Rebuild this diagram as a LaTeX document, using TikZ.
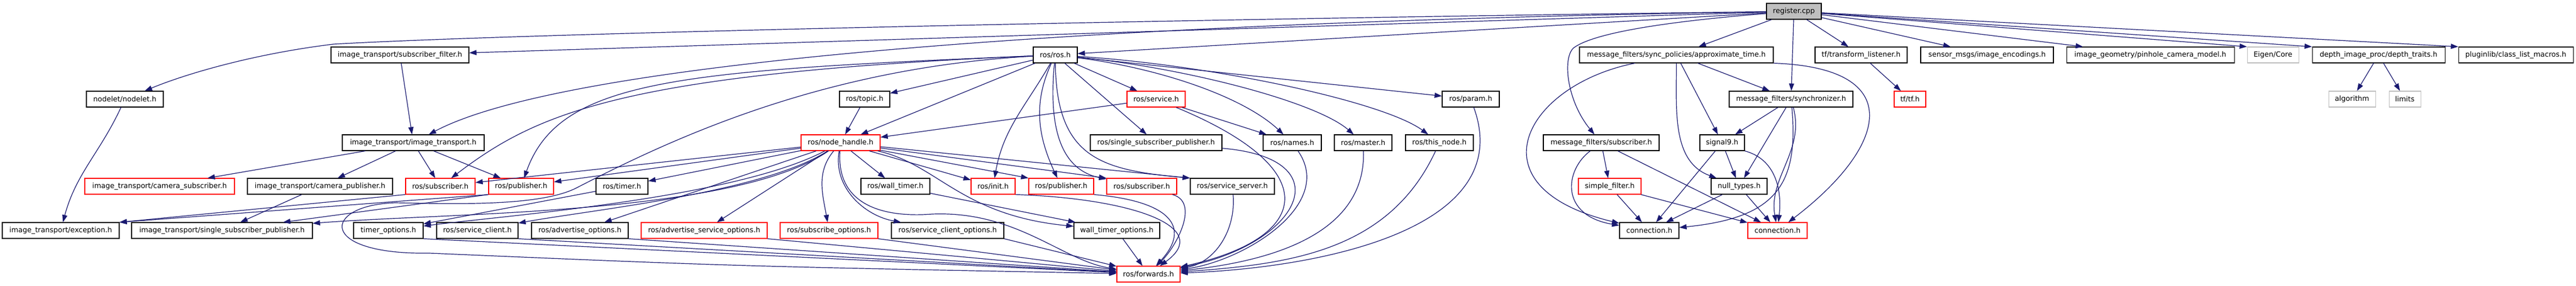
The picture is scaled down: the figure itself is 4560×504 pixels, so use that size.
\documentclass[tikz,border=0pt]{standalone}
\usepackage{fontspec}
\setmainfont{DejaVu Sans}
\usetikzlibrary{arrows.meta}
\definecolor{edgeblue}{HTML}{191970}
\definecolor{grey75}{HTML}{BFBFBF}
\tikzset{
  hdr/.style={draw=black, line width=1.1pt, inner sep=0pt,
              minimum height=28, font=\fontsize{12.6}{15}\selectfont},
  trunc/.style={hdr, draw=red},
  undoc/.style={hdr, draw=grey75},
  dep/.style={draw=edgeblue, line width=1.2pt,
              -{Triangle[length=13pt,width=9pt]}}
}
\begin{document}
\begin{tikzpicture}[x=1pt,y=-1pt]
  \useasboundingbox (0,0) rectangle (4560,504);
  \node[hdr,fill=grey75,minimum width=97] (reg) at (3175.5,20) {register.cpp};

  \node[hdr,minimum width=244] (subfilter) at (708,97) {image\_transport/subscriber\_filter.h};
  \node[hdr,minimum width=78] (rosros) at (1868,97) {ros/ros.h};
  \node[hdr,minimum width=343] (approx) at (2967.5,97) {message\_filters/sync\_policies/approximate\_time.h};
  \node[hdr,minimum width=163] (tflisten) at (3294.5,97) {tf/transform\_listener.h};
  \node[hdr,minimum width=235] (encodings) at (3517.5,97) {sensor\_msgs/image\_encodings.h};
  \node[hdr,minimum width=297] (pinhole) at (3806.5,97) {image\_geometry/pinhole\_camera\_model.h};
  \node[undoc,minimum width=91] (eigen) at (4023.5,97) {Eigen/Core};
  \node[hdr,minimum width=235] (depthtraits) at (4210.5,97) {depth\_image\_proc/depth\_traits.h};
  \node[hdr,minimum width=203] (pluginlib) at (4453.5,97) {pluginlib/class\_list\_macros.h};

  \node[hdr,minimum width=136] (nodelet) at (221,175) {nodelet/nodelet.h};
  \node[hdr,minimum width=89] (rostopic) at (1530.5,175) {ros/topic.h};
  \node[trunc,minimum width=103] (rosservice) at (2046.5,175) {ros/service.h};
  \node[hdr,minimum width=101] (rosparam) at (2603.5,175) {ros/param.h};
  \node[hdr,minimum width=219] (sync) at (3170.5,175) {message\_filters/synchronizer.h};
  \node[trunc,minimum width=56] (tftf) at (3381,175) {tf/tf.h};
  \node[undoc,minimum width=83] (algorithm) at (4163.5,175) {algorithm};
  \node[undoc,minimum width=56] (limits) at (4257,175) {limits};

  \node[hdr,minimum width=251] (ittransport) at (731.5,252) {image\_transport/image\_transport.h};
  \node[trunc,minimum width=140] (nh) at (1488,252) {ros/node\_handle.h};
  \node[hdr,minimum width=233] (rosssp) at (2046.5,252) {ros/single\_subscriber\_publisher.h};
  \node[hdr,minimum width=103] (rosnames) at (2287.5,252) {ros/names.h};
  \node[hdr,minimum width=102] (rosmaster) at (2413,252) {ros/master.h};
  \node[hdr,minimum width=120] (thisnode) at (2548,252) {ros/this\_node.h};
  \node[hdr,minimum width=205] (mfsub) at (2834.5,252) {message\_filters/subscriber.h};
  \node[hdr,minimum width=79] (signal) at (3048.5,252) {signal9.h};

  \node[trunc,minimum width=265] (camsub) at (282.5,329) {image\_transport/camera\_subscriber.h};
  \node[hdr,minimum width=257] (campub) at (566.5,329) {image\_transport/camera\_publisher.h};
  \node[trunc,minimum width=123] (subA) at (779.5,329) {ros/subscriber.h};
  \node[trunc,minimum width=115] (pubA) at (922.5,329) {ros/publisher.h};
  \node[hdr,minimum width=92] (rostimer) at (1101,329) {ros/timer.h};
  \node[hdr,minimum width=122] (walltimer) at (1585,329) {ros/wall\_timer.h};
  \node[trunc,minimum width=78] (rosinit) at (1758,329) {ros/init.h};
  \node[trunc,minimum width=115] (pubB) at (1878.5,329) {ros/publisher.h};
  \node[trunc,minimum width=124] (subB) at (2021,329) {ros/subscriber.h};
  \node[hdr,minimum width=149] (srvserver) at (2181.5,329) {ros/service\_server.h};
  \node[trunc,minimum width=111] (simplefilter) at (2849.5,329) {simple\_filter.h};
  \node[hdr,minimum width=99] (nulltypes) at (3078.5,329) {null\_types.h};

  \node[hdr,minimum width=207] (exception) at (107.5,407) {image\_transport/exception.h};
  \node[hdr,minimum width=320] (itssp) at (393,407) {image\_transport/single\_subscriber\_publisher.h};
  \node[hdr,minimum width=123] (timeropt) at (687.5,407) {timer\_options.h};
  \node[hdr,minimum width=144] (srvclient) at (845,407) {ros/service\_client.h};
  \node[hdr,minimum width=171] (advopt) at (1026.5,407) {ros/advertise\_options.h};
  \node[trunc,minimum width=223] (advsrvopt) at (1246.5,407) {ros/advertise\_service\_options.h};
  \node[trunc,minimum width=173] (subopt) at (1467.5,407) {ros/subscribe\_options.h};
  \node[hdr,minimum width=199] (srvclientopt) at (1677.5,407) {ros/service\_client\_options.h};
  \node[hdr,minimum width=152] (walltimeropt) at (1977,407) {wall\_timer\_options.h};
  \node[hdr,minimum width=105] (connA) at (2919.5,407) {connection.h};
  \node[trunc,minimum width=105] (connB) at (3146.5,407) {connection.h};

  \node[trunc,minimum width=112] (forwards) at (2033,484) {ros/forwards.h};

  \draw[dep] (reg) .. controls (2000,35) and (900,60) .. (590,78)
                   .. controls (450,95) and (330,130) .. (nodelet);
  \draw[dep] (reg) .. controls (1900,40) and (1000,110) .. (ittransport);
  \draw[dep] (reg) .. controls (2950,38) and (2820,58) .. (2785,85)
                   .. controls (2765,105) and (2775,180) .. (mfsub);
  \path (reg) edge[dep] (subfilter)
              edge[dep] (rosros)
              edge[dep] (approx)
              edge[dep] (sync)
              edge[dep] (tflisten)
              edge[dep] (encodings)
              edge[dep] (pinhole)
              edge[dep] (eigen.north west)
              edge[dep] (depthtraits.north west)
              edge[dep] (pluginlib.north west);

  \path (nodelet) edge[dep,out=-115,in=75] (exception);
  \path (subfilter) edge[dep] (ittransport);
  \path (ittransport) edge[dep] (camsub) edge[dep] (campub)
                      edge[dep] (subA) edge[dep] (pubA);
  \path (campub) edge[dep] (itssp);
  \path (subA.south west) edge[dep] (exception.north east);
  \path (pubA.south west) edge[dep] (exception.north east) edge[dep] (itssp);

  \path (rosros) edge[dep] (rostopic)
                 edge[dep] (nh)
                 edge[dep] (rosservice)
                 edge[dep] (rosssp)
                 edge[dep] (rosparam)
                 edge[dep,out=-120,in=80] (rosinit)
                 edge[dep,out=-115,in=115] (pubB);
  \draw[dep] (rosros) .. controls (1855,230) and (1880,300) .. (subB);
  \draw[dep] (rosros) .. controls (1870,280) and (1950,300) .. (srvserver.north west);
  \draw[dep] (rosros) .. controls (2050,120) and (2200,170) .. (rosnames);
  \draw[dep] (rosros) .. controls (2100,120) and (2330,180) .. (rosmaster);
  \draw[dep] (rosros) .. controls (2150,115) and (2450,180) .. (thisnode);
  \draw[dep] (rosros) .. controls (1100,130) and (950,200) .. (subA);
  \draw[dep] (rosros) .. controls (1200,125) and (990,140) .. (pubA);
  \draw[dep] (rosros) .. controls (1450,120) and (1180,250) .. (1020,332)
                      .. controls (955,365) and (800,360) .. (700,358)
                      .. controls (570,362) and (560,450) .. (760,447)
                      .. controls (1300,470) .. (forwards);

  \path (rostopic) edge[dep] (nh);
  \path (rosservice) edge[dep] (nh) edge[dep] (rosnames);
  \draw[dep] (rosservice) .. controls (2350,300) and (2320,420) .. (forwards);

  \path (nh) edge[dep] (rostimer)
             edge[dep] (subA)
             edge[dep] (pubA)
             edge[dep] (walltimer)
             edge[dep] (rosinit)
             edge[dep] (pubB.north west)
             edge[dep] (subB.north west)
             edge[dep] (srvserver.north west)
             edge[dep] (advopt)
             edge[dep] (advsrvopt)
             edge[dep,out=-130,in=100] (subopt)
             edge[dep,out=-100,in=170] (srvclientopt);
  \draw[dep] (nh) .. controls (1300,380) and (800,375) .. (itssp);
  \draw[dep] (nh) .. controls (1300,350) and (900,380) .. (timeropt);
  \draw[dep] (nh) .. controls (1350,340) and (1050,370) .. (srvclient);
  \draw[dep] (nh) .. controls (1660,290) and (1700,380) .. (walltimeropt);
  \draw[dep] (nh) .. controls (1480,360) and (1560,385) .. (1650,378)
                  .. controls (1800,372) and (1880,460) .. (forwards);

  \path (walltimer) edge[dep] (walltimeropt);
  \path (rostimer) edge[dep] (timeropt);

  \path (timeropt.south east) edge[dep] (forwards);
  \path (srvclient.south east) edge[dep] (forwards);
  \path (advopt.south east) edge[dep] (forwards);
  \path (advsrvopt.south east) edge[dep] (forwards);
  \path (subopt.south east) edge[dep] (forwards);
  \path (srvclientopt.south east) edge[dep] (forwards);
  \path (walltimeropt) edge[dep] (forwards);
  \draw[dep] (rosinit.south east) .. controls (2000,350) and (2150,400) .. (forwards);
  \draw[dep] (pubB.south east) .. controls (2070,355) and (2110,400) .. (forwards);
  \path (subB) edge[dep,out=-15,in=45] (forwards);
  \path (srvserver) edge[dep,out=-85,in=10] (forwards);
  \draw[dep] (rosssp) .. controls (2380,280) and (2300,430) .. (forwards);
  \path (rosnames) edge[dep,out=-55,in=8] (forwards)
        (rosmaster) edge[dep,out=-88,in=6] (forwards)
        (thisnode) edge[dep,out=-115,in=4] (forwards)
        (rosparam) edge[dep,out=-70,in=2] (forwards);

  \path (approx) edge[dep] (sync) edge[dep] (signal)
                 edge[dep,out=-90,in=160] (nulltypes);
  \draw[dep] (approx) .. controls (2700,150) and (2600,330) .. (connA);
  \draw[dep] (approx.south east) .. controls (3380,120) and (3340,260) .. (connB);
  \path (mfsub) edge[dep] (simplefilter) edge[dep] (connB);
  \draw[dep] (mfsub) .. controls (2770,300) and (2760,380) .. (connA);
  \path (simplefilter) edge[dep] (connA) edge[dep] (connB);
  \path (sync) edge[dep] (signal) edge[dep] (nulltypes)
               edge[dep,out=-75,in=100] (connB);
  \draw[dep] (sync) .. controls (3185,330) and (3140,385) .. (connA);
  \path (signal) edge[dep] (nulltypes) edge[dep] (connA);
  \draw[dep] (signal.south east) .. controls (3140,280) and (3155,330) .. (connB);
  \path (nulltypes) edge[dep] (connA) edge[dep] (connB);
  \path (tflisten) edge[dep] (tftf);
  \path (depthtraits) edge[dep] (algorithm) edge[dep] (limits);
\end{tikzpicture}
\end{document}
